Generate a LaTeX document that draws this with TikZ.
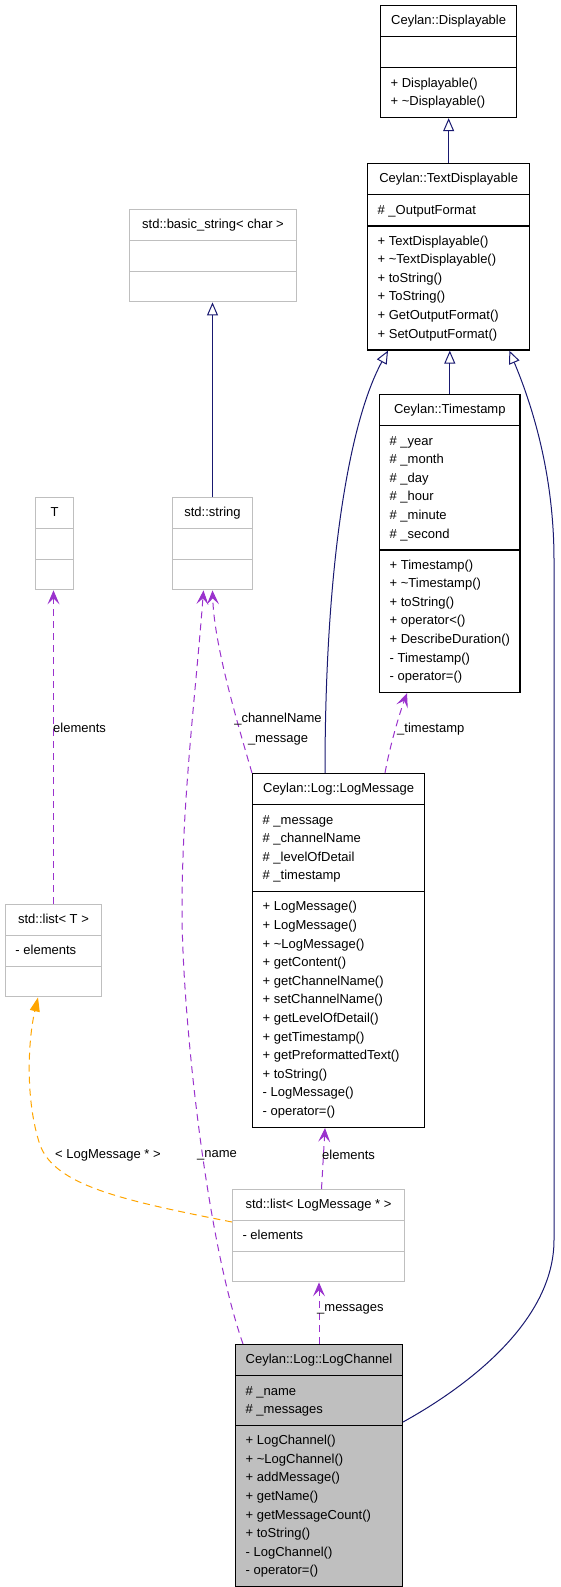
\documentclass[tikz,border=0pt]{standalone}
\usepackage{fontspec}
\setmainfont{Liberation Sans}
\usepackage{tikz}
\usetikzlibrary{calc,positioning,arrows.meta,shapes.multipart}
\definecolor{edgeblue}{RGB}{25,25,112}
\definecolor{edgepurple}{RGB}{154,50,205}
\definecolor{edgeorange}{RGB}{255,165,0}
\definecolor{boxgray}{RGB}{191,191,191}
\newcommand{\classfont}{\fontsize{13}{18.6}\selectfont}
\newcommand{\classrows}[1]{\begin{tabular}{@{}l@{}}#1\end{tabular}}
\tikzstyle{classbox} = [rectangle split, rectangle split parts=3, rectangle split part align={center,left,left}, anchor=north west, inner xsep=10pt, inner ysep=5.6pt, font=\classfont, draw=black, line width=1.3pt]
\tikzstyle{extbox} = [classbox, draw=boxgray, line width=1pt]
\tikzstyle{mainbox} = [classbox, fill=boxgray]
\tikzstyle{inheritline} = [draw=edgeblue, line width=1pt, -{Triangle[open,length=13pt,width=11pt]}]
\tikzstyle{useline} = [draw=edgepurple, line width=1pt, dash pattern=on 7pt off 5pt, -{Stealth[length=14pt,width=12pt,inset=6pt]}]
\tikzstyle{instline} = [draw=edgeorange, line width=1pt, dash pattern=on 7pt off 5pt, -{Triangle[length=14pt,width=10pt]}]
\tikzstyle{edgelabel} = [font=\classfont, inner sep=0pt, anchor=west]

\begin{document}
\classfont
\begin{tikzpicture}[x=1pt,y=-1pt]
\useasboundingbox (0,0) rectangle (560,1587);

% classes
\node[classbox, minimum width=136pt] (disp) at (380,5) {\strut Ceylan::Displayable
	\nodepart{two}\strut
	\nodepart{three}\classrows{+ Displayable()\\ + \textasciitilde Displayable()}};
\node[classbox, minimum width=162pt] (textdisp) at (367,163) {\strut Ceylan::TextDisplayable
	\nodepart{two}\classrows{\# \_OutputFormat}
	\nodepart{three}\classrows{+ TextDisplayable()\\ + \textasciitilde TextDisplayable()\\ + toString()\\ + ToString()\\ + GetOutputFormat()\\ + SetOutputFormat()}};
\node[classbox, minimum width=140pt] (timestamp) at (379,394) {\strut Ceylan::Timestamp
	\nodepart{two}\classrows{\# \_year\\ \# \_month\\ \# \_day\\ \# \_hour\\ \# \_minute\\ \# \_second}
	\nodepart{three}\classrows{+ Timestamp()\\ + \textasciitilde Timestamp()\\ + toString()\\ + operator<()\\ + DescribeDuration()\\ - Timestamp()\\ - operator=()}};
\node[extbox, minimum width=167pt] (basicstr) at (129,209) {\strut std::basic\_string< char >
	\nodepart{two}\strut
	\nodepart{three}\strut};
\node[extbox, minimum width=80pt] (stdstr) at (172,497) {\strut std::string
	\nodepart{two}\strut
	\nodepart{three}\strut};
\node[extbox, minimum width=38pt] (tparam) at (35,497) {\strut T
	\nodepart{two}\strut
	\nodepart{three}\strut};
\node[extbox, minimum width=96pt] (listT) at (5,904) {\strut std::list< T >
	\nodepart{two}\classrows{- elements}
	\nodepart{three}\strut};
\node[classbox, minimum width=172pt] (logmsg) at (252,773) {\strut Ceylan::Log::LogMessage
	\nodepart{two}\classrows{\# \_message\\ \# \_channelName\\ \# \_levelOfDetail\\ \# \_timestamp}
	\nodepart{three}\classrows{+ LogMessage()\\ + LogMessage()\\ + \textasciitilde LogMessage()\\ + getContent()\\ + getChannelName()\\ + setChannelName()\\ + getLevelOfDetail()\\ + getTimestamp()\\ + getPreformattedText()\\ + toString()\\ - LogMessage()\\ - operator=()}};
\node[extbox, minimum width=172pt] (listmsg) at (232,1189) {\strut std::list< LogMessage * >
	\nodepart{two}\classrows{- elements}
	\nodepart{three}\strut};
\node[mainbox, minimum width=166pt] (logchan) at (235,1344) {\strut Ceylan::Log::LogChannel
	\nodepart{two}\classrows{\# \_name\\ \# \_messages}
	\nodepart{three}\classrows{+ LogChannel()\\ + \textasciitilde LogChannel()\\ + addMessage()\\ + getName()\\ + getMessageCount()\\ + toString()\\ - LogChannel()\\ - operator=()}};

% inheritance
\draw[inheritline] (textdisp.north) -- (disp.south);
\draw[inheritline] (timestamp.north) -- (timestamp.north |- textdisp.south);
\draw[inheritline] (stdstr.north) -- (stdstr.north |- basicstr.south);
\draw[inheritline] ($(logmsg.north west)+(73,0)$) .. controls (325,560) and (350,420) .. ($(textdisp.south west)+(21,0)$);
\draw[inheritline] ($(logchan.north east)+(0,78)$) .. controls (470,1385) and (554,1320) .. (554,1240)
	-- (554,560) .. controls (554,470) and (530,400) .. ($(textdisp.south east)+(-21,0)$);

% usage
\draw[useline] (listT.north) -- (listT.north |- tparam.south);
\node[edgelabel] (lblelements) at (53,728) {elements};
\draw[useline] (logmsg.north west) .. controls (232,705) and (214,640) .. (stdstr.south);
\node[edgelabel, anchor=center, align=center, font=\fontsize{13}{20}\selectfont] (lblchannel) at (278,729) {\_channelName\\\_message};
\draw[useline] ($(logchan.north west)+(8,0)$) .. controls (205,1235) and (182,1010) .. (182,910)
	.. controls (182,800) and (196,690) .. ($(stdstr.south)+(-9,0)$);
\node[edgelabel] (lblname) at (197,1155) {\_name};
\draw[useline] ($(logmsg.north west)+(133,0)$) .. controls (390,745) and (400,712) .. ($(timestamp.south west)+(28,0)$);
\node[edgelabel] (lbltimestamp) at (397,729) {\_timestamp};
\draw[useline] ($(listmsg.north)+(3,0)$) -- ($(logmsg.south west)+(73,0)$);
\node[edgelabel] (lblmsgelements) at (322,1155) {elements};
\draw[useline] (logchan.north) -- (logchan.north |- listmsg.south);
\node[edgelabel] (lblmessages) at (317,1309) {\_messages};

% template instance
\draw[instline] ($(listmsg.north west)+(0,33)$) .. controls (120,1200) and (55,1185) .. (40,1145)
	.. controls (25,1100) and (28,1040) .. ($(listT.south west)+(33,0)$);
\node[edgelabel] (lblinst) at (55,1155) {< LogMessage * >};
\end{tikzpicture}
\end{document}
